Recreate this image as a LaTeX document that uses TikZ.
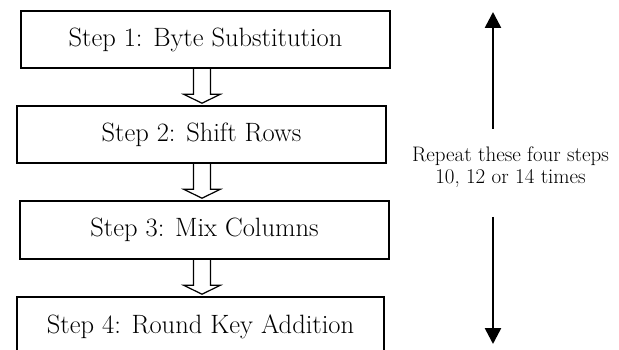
\documentclass[tikz,border=0pt]{standalone}
\usetikzlibrary{arrows.meta,calc}
\begin{document}
\begin{tikzpicture}[x=1pt,y=-1pt,
  stepbox/.style={draw,line width=1.6pt,inner sep=0pt,font=\fontsize{26.5}{30}\selectfont},
  blk/.style={line width=1.2pt,line join=miter},
  loopline/.style={line width=2.6pt,-{Triangle[width=16pt,length=16pt]}},
  note/.style={align=center,font=\fontsize{21}{22.5}\selectfont}]
\clip (0,0) rectangle (619,350);
\node[stepbox,minimum width=369pt,minimum height=57pt] (b1) at (205.5,39.5) {Step 1: Byte Substitution};
\node[stepbox,minimum width=369pt,minimum height=57pt] (b2) at (201.5,134.5) {Step 2: Shift Rows};
\node[stepbox,minimum width=369pt,minimum height=58pt] (b3) at (204.5,230) {Step 3: Mix Columns};
\node[stepbox,minimum width=367pt,minimum height=60pt] (b4) at (200.5,327) {Step 4: Round Key Addition};
\coordinate (ax) at (202,0);
\newcommand{\blockarrow}[2]{%
  \coordinate (bs) at (#1.south -| ax);
  \coordinate (bt) at (#2.north -| ax);
  \draw[blk] ($(bs)+(-8.5,0)$) -- ($(bt)+(-8.5,-11)$) -- ($(bt)+(-18.5,-11)$) -- ($(bt)+(0,-2)$)
    -- ($(bt)+(18.5,-11)$) -- ($(bt)+(8.5,-11)$) -- ($(bs)+(8.5,0)$);}
\blockarrow{b1}{b2}
\blockarrow{b2}{b3}
\blockarrow{b3}{b4}
\node[note] (rep) at (510.5,167) {Repeat these four steps\\10, 12 or 14 times};
\coordinate (upS) at (493,129);
\coordinate (upT) at (493,12);
\coordinate (dnS) at (493,217);
\coordinate (dnT) at (493,344);
\draw[loopline] (upS) -- (upT);
\draw[loopline] (dnS) -- (dnT);
\end{tikzpicture}
\end{document}
